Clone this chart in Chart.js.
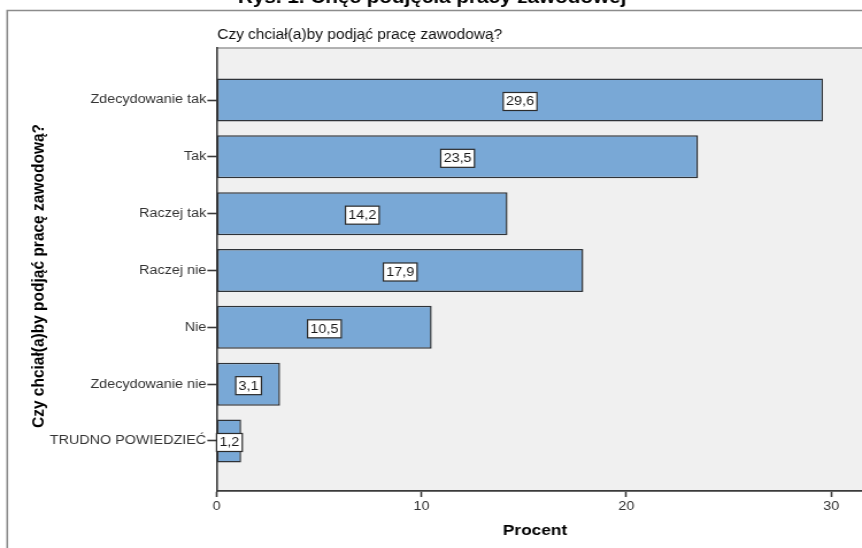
<!DOCTYPE html>
<html>
<head>
<meta charset="utf-8">
<script src="https://cdn.jsdelivr.net/npm/chart.js@4/dist/chart.umd.min.js"></script>
<style>
  html, body { margin: 0; padding: 0; background: #ffffff; }
</style>
</head>
<body>
<!-- the canvas is drawn narrower and widened by CSS to the page width -->
<canvas id="c" width="750" height="548" style="display:block;width:862px;height:548px"></canvas>
<script>
// Survey answers and their share (%)
const categories = [
  'Zdecydowanie tak',
  'Tak',
  'Raczej tak',
  'Raczej nie',
  'Nie',
  'Zdecydowanie nie',
  'TRUDNO POWIEDZIEĆ'
];
const percents = [29.6, 23.5, 14.2, 17.9, 10.5, 3.1, 1.2];
const percentTicks = [0, 10, 20, 30];

const figureTitle = 'Rys. 1. Chęć podjęcia pracy zawodowej';
const chartTitle = 'Czy chciał(a)by podjąć pracę zawodową?';
const yAxisTitle = 'Czy chciał(a)by podjąć pracę zawodową?';
const xAxisTitle = 'Procent';

const SANS = '"Liberation Sans", Arial, sans-serif';
const fmt = v => v.toFixed(1).replace('.', ',');

// Frame, grey plot background and the text titles
const decor = {
  id: 'decor',
  beforeDraw(chart) {
    const { ctx, chartArea: a, width, height } = chart;
    ctx.save();
    // outer frame
    ctx.strokeStyle = '#8c8c8c';
    ctx.lineWidth = 1.6;
    ctx.beginPath();
    ctx.moveTo(6.3, height + 5);
    ctx.lineTo(6.3, 10.5);
    ctx.lineTo(width + 5, 10.5);
    ctx.stroke();
    // plot background
    ctx.fillStyle = '#f0f0f0';
    ctx.fillRect(a.left, a.top, a.right - a.left, a.bottom - a.top);
    ctx.strokeStyle = '#9a9a9a';
    ctx.lineWidth = 1.4;
    ctx.beginPath();
    ctx.moveTo(a.left, a.top);
    ctx.lineTo(a.right + 5, a.top);
    ctx.stroke();

    ctx.fillStyle = '#000000';
    // figure caption above the frame
    ctx.font = 'bold 18px ' + SANS;
    ctx.textAlign = 'center';
    ctx.textBaseline = 'alphabetic';
    ctx.fillText(figureTitle, 376, 2.5);
    // chart title (slightly condensed)
    ctx.save();
    ctx.translate(a.left + 0.5, 35);
    ctx.scale(0.87, 1);
    ctx.font = '15.5px ' + SANS;
    ctx.textAlign = 'left';
    ctx.textBaseline = 'middle';
    ctx.fillStyle = '#111111';
    ctx.fillText(chartTitle, 0, 0);
    ctx.restore();
    // x axis title
    ctx.font = 'bold 15px ' + SANS;
    ctx.textAlign = 'center';
    ctx.textBaseline = 'middle';
    ctx.fillText(xAxisTitle, 465.5, 531);
    // y axis title
    ctx.save();
    ctx.translate(34, 276);
    ctx.rotate(-Math.PI / 2);
    ctx.font = 'bold 15.5px ' + SANS;
    ctx.fillText(yAxisTitle, 0, 0);
    ctx.restore();
    ctx.restore();
  }
};

// Boxed value labels inside the bars
const valueBoxes = {
  id: 'valueBoxes',
  afterDatasetsDraw(chart) {
    const { ctx, chartArea: a } = chart;
    const meta = chart.getDatasetMeta(0);
    ctx.save();
    ctx.font = '12.5px ' + SANS;
    ctx.textAlign = 'center';
    ctx.textBaseline = 'middle';
    meta.data.forEach((bar, i) => {
      const text = fmt(percents[i]);
      const w = ctx.measureText(text).width + 5;
      const h = 18;
      const cx = (bar.x + bar.base) / 2;
      const left = Math.max(cx - w / 2, a.left);
      const top = bar.y - h / 2 + 1.5;
      ctx.fillStyle = '#ffffff';
      ctx.fillRect(left, top, w, h);
      ctx.strokeStyle = '#2b2b2b';
      ctx.lineWidth = 1.2;
      ctx.strokeRect(left, top, w, h);
      ctx.fillStyle = '#1a1a1a';
      ctx.fillText(text, left + w / 2, top + h / 2 + 0.5);
    });
    ctx.restore();
  }
};

new Chart(document.getElementById('c'), {
  type: 'bar',
  data: {
    datasets: [{
      data: percents.map((v, i) => ({ x: v, y: i })),
      backgroundColor: '#79a8d6',
      borderColor: '#2f3338',
      borderWidth: 1.5,
      borderSkipped: false,
      categoryPercentage: 1,
      barPercentage: 0.757
    }]
  },
  options: {
    indexAxis: 'y',
    responsive: false,
    devicePixelRatio: 1,
    animation: false,
    layout: { padding: { top: 48, right: 0, left: 0, bottom: 0 } },
    plugins: {
      legend: { display: false },
      tooltip: { enabled: false },
      title: { display: false }
    },
    scales: {
      x: {
        type: 'linear',
        min: 0,
        max: 31.5,
        offset: false,
        afterFit(scale) { scale.height = 57; },
        afterBuildTicks(scale) { scale.ticks = percentTicks.map(v => ({ value: v })); },
        border: { display: true, color: '#3a3a3a', width: 1.8 },
        grid: { offset: false, drawOnChartArea: false, drawTicks: true, tickLength: 6, color: '#3a3a3a', tickWidth: 1.6 },
        ticks: {
          color: '#333333',
          font: { family: SANS, size: 12.5 },
          padding: 2,
          maxRotation: 0
        }
      },
      y: {
        type: 'linear',
        reverse: true,
        offset: false,
        min: -0.915,
        max: 6.88,
        afterFit(scale) { scale.width = 188.4; },
        afterBuildTicks(scale) { scale.ticks = categories.map((c, i) => ({ value: i })); },
        border: { display: true, color: '#3a3a3a', width: 1.6 },
        grid: { offset: false, drawOnChartArea: false, drawTicks: true, tickLength: 8, color: '#3a3a3a', tickWidth: 1.6 },
        ticks: {
          color: '#333333',
          font: { family: SANS, size: 12.5 },
          padding: 1,
          autoSkip: false,
          callback: v => categories[v] ?? ''
        }
      }
    }
  },
  plugins: [decor, valueBoxes]
});
</script>
</body>
</html>
